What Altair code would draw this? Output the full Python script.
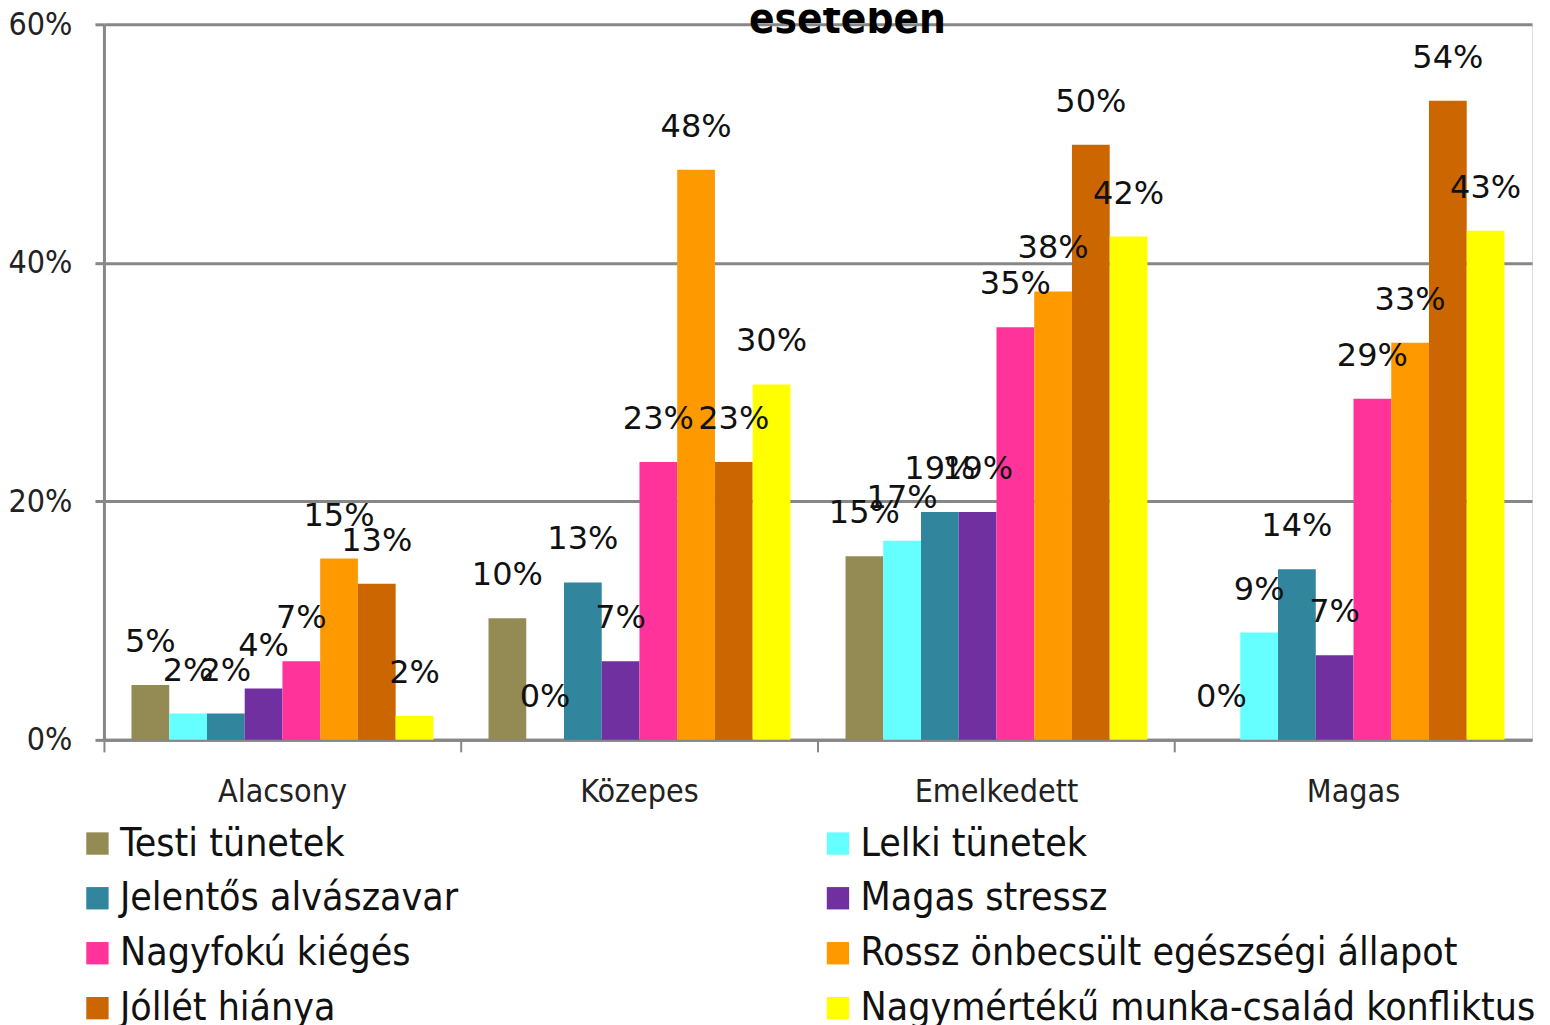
import altair as alt
import pandas as pd

categories = ["Alacsony", "Közepes", "Emelkedett", "Magas"]
series = [
    "Testi tünetek",
    "Lelki tünetek",
    "Jelentős alvászavar",
    "Magas stressz",
    "Nagyfokú kiégés",
    "Rossz önbecsült egészségi állapot",
    "Jóllét hiánya",
    "Nagymértékű munka-család konfliktus",
]
colors = ["#948A54", "#66FFFF", "#31859C", "#7030A0", "#FF3399", "#FF9900", "#CC6600", "#FFFF00"]

testi = [4.6, 10.2, 15.4, 0.0]
lelki = [2.2, 0.0, 16.7, 9.0]
alvas = [2.2, 13.2, 19.1, 14.3]
stressz = [4.3, 6.6, 19.1, 7.1]
kieges = [6.6, 23.3, 34.6, 28.6]
onbecsult = [15.2, 47.8, 37.6, 33.3]
jollet = [13.1, 23.3, 49.9, 53.6]
konfliktus = [2.0, 29.8, 42.2, 42.7]
all_values = [testi, lelki, alvas, stressz, kieges, onbecsult, jollet, konfliktus]

title_text = ["esetében"]

rows = []
for s, vals in zip(series, all_values):
    for c, v in zip(categories, vals):
        rows.append({"category": c, "series": s, "value": v})
df = pd.DataFrame(rows)

# legend fills column by column: reorder so it reads row by row like the original
legend_order = series[0::2] + series[1::2]
legend_colors = colors[0::2] + colors[1::2]

NARROW = "DejaVu Sans Condensed, Liberation Sans Narrow, sans-serif"
GRAY = "#878787"
W, H = 1429, 716

base = alt.Chart(df).transform_calculate(
    label="round(datum.value) + '%'"
).encode(
    x=alt.X(
        "category:N",
        sort=categories,
        scale=alt.Scale(paddingInner=0, paddingOuter=0),
        axis=alt.Axis(
            title=None,
            labelAngle=0,
            bandPosition=0,
            labelFont=NARROW,
            labelFontSize=32,
            labelColor="#222222",
            labelPadding=25,
            labelLimit=400,
            domainColor=GRAY,
            domainWidth=3,
            tickColor=GRAY,
            tickWidth=2,
            tickSize=12,
        ),
    ),
    xOffset=alt.XOffset(
        "series:N", sort=series, scale=alt.Scale(paddingInner=0, paddingOuter=0.73)
    ),
    y=alt.Y(
        "value:Q",
        scale=alt.Scale(domain=[0, 60], nice=False),
        axis=alt.Axis(
            title=None,
            values=[0, 20, 40, 60],
            labelExpr="datum.value + '%'",
            labelFont=NARROW,
            labelFontSize=32,
            labelColor="#222222",
            labelPadding=23,
            domainColor=GRAY,
            domainWidth=3,
            tickColor=GRAY,
            tickWidth=3,
            tickSize=9,
            gridColor=GRAY,
            gridWidth=3,
        ),
    ),
)

bars = base.mark_bar().encode(
    color=alt.Color(
        "series:N",
        scale=alt.Scale(domain=legend_order, range=legend_colors),
        legend=alt.Legend(
            title=None,
            orient="none",
            legendX=-26,
            legendY=800,
            columns=2,
            columnPadding=360,
            rowPadding=15,
            symbolType="square",
            symbolSize=500,
            symbolStrokeWidth=0,
            symbolOpacity=1,
            labelFont=NARROW,
            labelFontSize=39,
            labelColor="#111111",
            labelLimit=900,
            labelOffset=3,
        ),
    )
)

labels = base.mark_text(
    baseline="alphabetic", dy=-33, font="DejaVu Sans", fontSize=32, color="#111111"
).encode(text="label:N")

title = alt.Chart(pd.DataFrame({"t": title_text})).mark_text(
    font=NARROW, fontWeight="bold", fontSize=42, baseline="alphabetic", color="#000000"
).encode(text="t:N", x=alt.value(744), y=alt.value(9))

chart = (
    alt.layer(bars, labels, title)
    .properties(
        width=W,
        height=H,
        autosize=alt.AutoSizeParams(type="none"),
        padding={"left": 96, "top": 16, "right": 10, "bottom": 285},
    )
    .configure_view(stroke=None)
    .configure(background="white")
)

chart.save("out.html", embed_options={"renderer": "svg", "actions": False})
